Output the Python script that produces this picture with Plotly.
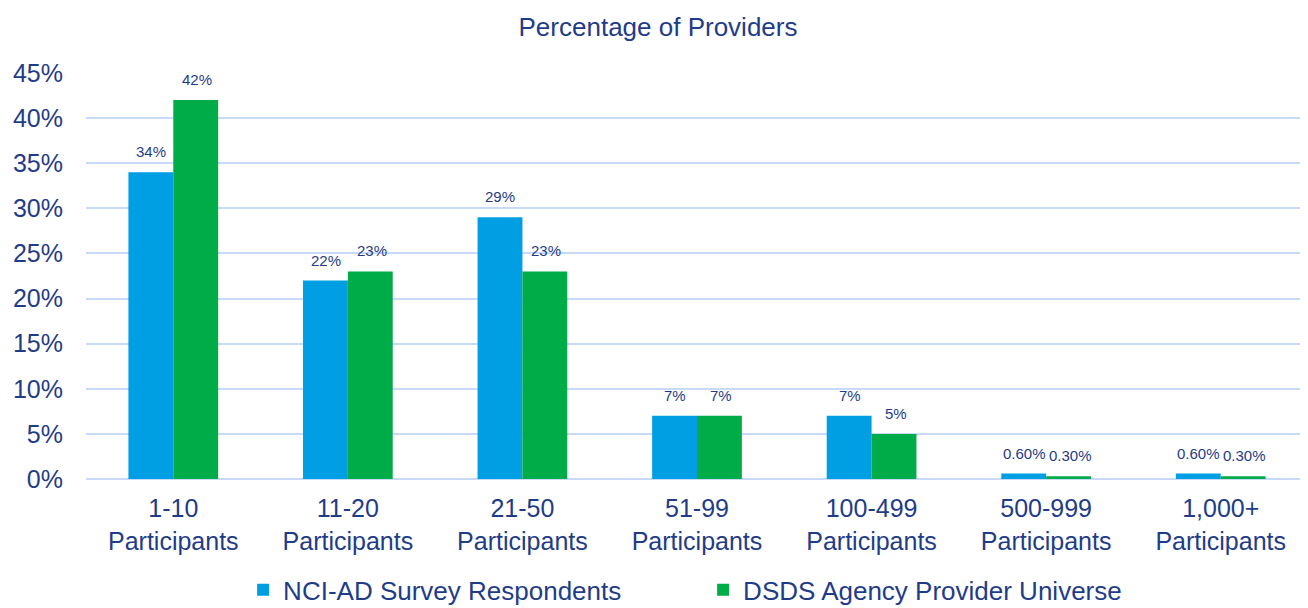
import plotly.graph_objects as go

categories = ["1-10<br>Participants", "11-20<br>Participants", "21-50<br>Participants",
              "51-99<br>Participants", "100-499<br>Participants", "500-999<br>Participants",
              "1,000+<br>Participants"]
nci_values = [34, 22, 29, 7, 7, 0.6, 0.6]
dsds_values = [42, 23, 23, 7, 5, 0.3, 0.3]
nci_labels = ["34%", "22%", "29%", "7%", "7%", "0.60%", "0.60%"]
dsds_labels = ["42%", "23%", "23%", "7%", "5%", "0.30%", "0.30%"]
y_ticks = [0, 5, 10, 15, 20, 25, 30, 35, 40, 45]
y_tick_text = [f"{v}%" for v in y_ticks]

navy = "#1F3C88"
font_family = "Liberation Sans, Arial, sans-serif"

fig = go.Figure()
fig.add_trace(go.Bar(x=categories, y=nci_values, name="NCI-AD Survey Respondents",
                     marker=dict(color="#009FE3", line=dict(width=0))))
fig.add_trace(go.Bar(x=categories, y=dsds_values, name="DSDS Agency Provider Universe",
                     marker=dict(color="#00AC47", line=dict(width=0))))

# data labels above each bar (offset to the bar's half of the group)
for vals, labels, shift in [(nci_values, nci_labels, -22), (dsds_values, dsds_labels, 24)]:
    for c, v, t in zip(categories, vals, labels):
        fig.add_annotation(x=c, y=v, text=t, showarrow=False, xshift=shift, yshift=10,
                           yanchor="bottom", xanchor="center",
                           font=dict(size=15, color=navy, family=font_family))

fig.update_layout(
    width=1300, height=600,
    margin=dict(l=78, r=0, t=65, b=129, autoexpand=False),
    paper_bgcolor="white", plot_bgcolor="white",
    barmode="group", bargap=0.486, bargroupgap=0,
    font=dict(family=font_family, color=navy),
    title=dict(text="Percentage of Providers", x=0.5, xanchor="center", y=0.968, yanchor="middle",
               font=dict(size=26, color=navy, family=font_family)),
    legend=dict(orientation="h", x=0.505, xanchor="center", y=-0.273, yanchor="middle",
                font=dict(size=26, color=navy, family=font_family), itemwidth=30,
                entrywidth=415, traceorder="normal"),
)
fig.update_xaxes(showgrid=False, showline=False, ticks="", tickfont=dict(size=25, color=navy),
                 automargin=False, ticklabelstandoff=12)
fig.update_yaxes(range=[0, 45], tickvals=y_ticks, ticktext=y_tick_text, showgrid=True,
                 gridcolor="#C9DAF8", gridwidth=2, zeroline=True, zerolinecolor="#C9DAF8",
                 zerolinewidth=2, tickfont=dict(size=25, color=navy), ticks="", ticklen=0,
                 ticklabelstandoff=22, automargin=False)
fig.write_html("out.html")
